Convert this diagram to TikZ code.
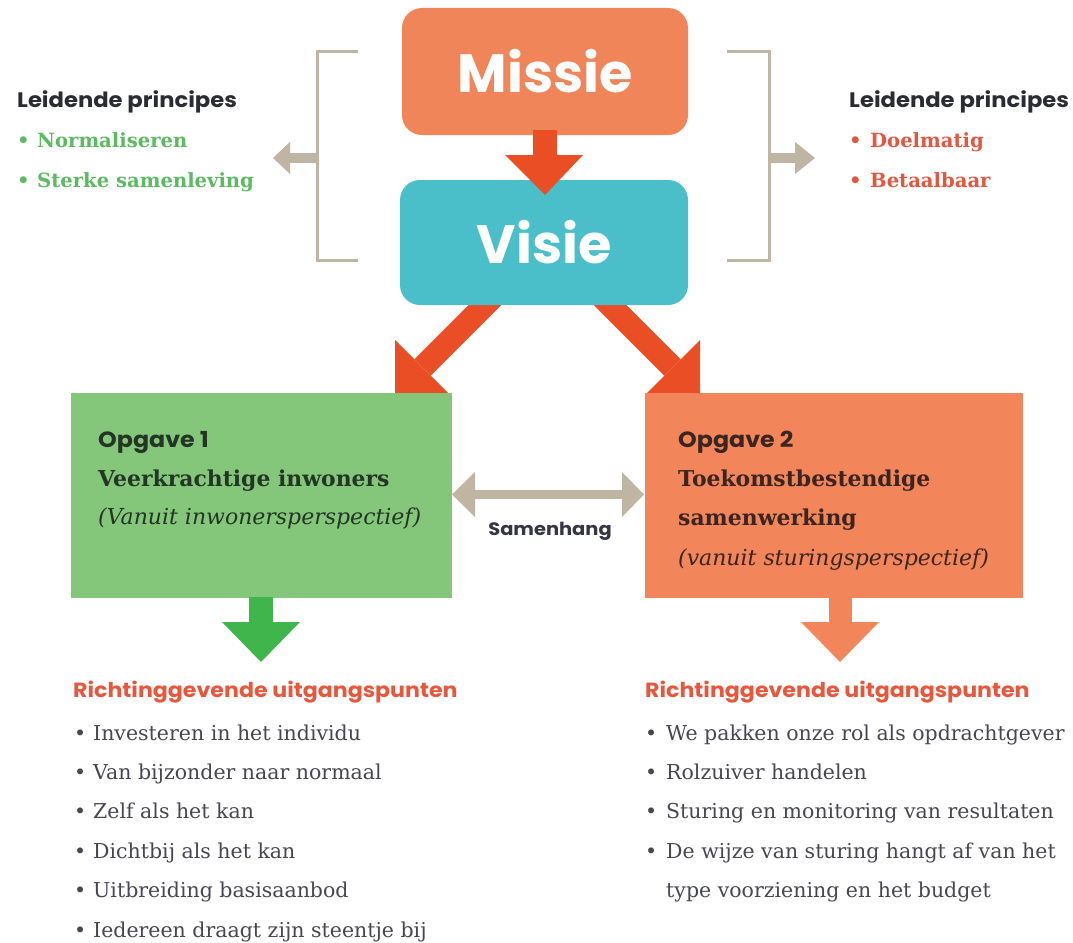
\documentclass[tikz,border=0pt]{standalone}
\usepackage{fontspec}
\setmainfont{DejaVu Serif}
\newfontfamily\sansf{Poppins}[FakeStretch=1.08]
\newfontfamily\titlef{Poppins}
\usetikzlibrary{backgrounds}
\definecolor{missiecol}{HTML}{EF8558}
\definecolor{visiecol}{HTML}{4ABFC9}
\definecolor{redarrow}{HTML}{E94E24}
\definecolor{tancol}{HTML}{C0B4A2}
\definecolor{greenbox}{HTML}{85C77A}
\definecolor{greenarrow}{HTML}{3FB54B}
\definecolor{orangebox}{HTML}{F2855A}
\definecolor{greentxt}{HTML}{5BBA62}
\definecolor{redtxt}{HTML}{E35640}
\definecolor{headred}{HTML}{E8573C}
\definecolor{darktxt}{HTML}{2B2B33}
\definecolor{listtxt}{HTML}{474753}
\definecolor{gboxtxt}{HTML}{233524}
\definecolor{oboxtxt}{HTML}{3B2520}
\definecolor{navytxt}{HTML}{353545}
\tikzset{
  topbox/.style={rounded corners=20pt, inner sep=0pt, text=white,
    font=\titlef\bfseries\fontsize{54}{54}\selectfont},
  opbox/.style={inner sep=0pt, minimum height=205pt},
  txt/.style={anchor=base west, inner sep=0pt},
  sanshead/.style={txt, font=\sansf\bfseries\fontsize{21}{21}\selectfont},
  opghead/.style={txt, font=\sansf\bfseries\fontsize{22}{22}\selectfont},
  rghead/.style={txt, text=headred, font=\sansf\bfseries\fontsize{20.5}{20.5}\selectfont},
  princ/.style={txt, font=\bfseries\fontsize{19.6}{19.6}\selectfont},
  boxser/.style={txt, font=\bfseries\fontsize{21.9}{21.9}\selectfont},
  boxital/.style={txt, font=\itshape\fontsize{22}{22}\selectfont},
  listitem/.style={txt, text=listtxt, font=\fontsize{20.5}{20.5}\selectfont},
  bracket/.style={draw=tancol, line width=3pt},
}
\begin{document}
\begin{tikzpicture}[x=1pt,y=-1pt]
\useasboundingbox (0,0) rectangle (1073,942);

% top boxes
\node[topbox, fill=missiecol, minimum width=286pt, minimum height=127pt] (missie) at (545,71.5) {Missie};
\node[topbox, fill=visiecol, minimum width=288pt, minimum height=125pt] (visie) at (544,242.5) {Visie};

% Missie -> Visie block arrow
\coordinate (mvtip) at (545,195);
\fill[redarrow] (533,130) rectangle (557,156);
\fill[redarrow] (505,155) -- (583,155) -- (mvtip) -- cycle;

% brackets
\draw[bracket] (358,52) -- (317,52) -- (317,260) -- (358,260);
\draw[bracket] (727,52) -- (769,52) -- (769,260) -- (727,260);
\fill[tancol] (318,153) rectangle (289,163);
\fill[tancol] (290,142) -- (273,158) -- (290,174) -- cycle;
\fill[tancol] (768,153) rectangle (796,163);
\fill[tancol] (795,142) -- (815,158) -- (795,174) -- cycle;

% leidende principes left
\node[sanshead, text=darktxt] (lpl) at (17,107) {Leidende principes};
\node[princ, text=greentxt] (pl1) at (17,147) {\makebox[20pt][l]{\textbullet}Normaliseren};
\node[princ, text=greentxt] (pl2) at (17,187) {\makebox[20pt][l]{\textbullet}Sterke samenleving};
% leidende principes right
\node[sanshead, text=darktxt] (lpr) at (849,107) {Leidende principes};
\node[princ, text=redtxt] (pr1) at (849,147) {\makebox[21pt][l]{\textbullet}Doelmatig};
\node[princ, text=redtxt] (pr2) at (849,187) {\makebox[21pt][l]{\textbullet}Betaalbaar};

% Opgave boxes
\node[opbox, fill=greenbox, minimum width=381pt] (op1) at (261.5,495.5) {};
\node[opbox, fill=orangebox, minimum width=378pt] (op2) at (834,495.5) {};

% diagonal arrows (behind)
\begin{scope}[on background layer]
\fill[white] (0,0) rectangle (1073,942);
\draw[redarrow, line width=23pt] (505,285) -- (422.5,367.5);
\fill[redarrow] (395,340) -- (450,395) -- (395,395) -- cycle;
\draw[redarrow, line width=23pt] (590,285) -- (672.5,367.5);
\fill[redarrow] (700,340) -- (645,395) -- (700,395) -- cycle;
\end{scope}

% box texts
\node[opghead, text=gboxtxt] (o1a) at (98,447) {Opgave 1};
\node[boxser, text=gboxtxt] (o1b) at (98,486) {Veerkrachtige inwoners};
\node[boxital, text=gboxtxt] (o1c) at (98,524) {(Vanuit inwonersperspectief)};
\node[opghead, text=oboxtxt] (o2a) at (678,447) {Opgave 2};
\node[boxser, text=oboxtxt] (o2b) at (678,486) {Toekomstbestendige};
\node[boxser, text=oboxtxt] (o2c) at (678,525) {samenwerking};
\node[boxital, text=oboxtxt] (o2d) at (678,565) {(vanuit sturingsperspectief)};

% Samenhang double arrow
\fill[tancol] (474,490) rectangle (623,499);
\fill[tancol] (475,472) -- (452,494.5) -- (475,517) -- cycle;
\fill[tancol] (622,472) -- (644,494.5) -- (622,517) -- cycle;
\node[anchor=base, inner sep=0pt, text=navytxt, font=\sansf\bfseries\fontsize{18}{18}\selectfont] (samen) at (550,535) {Samenhang};

% down arrows
\fill[greenarrow] (249,597) rectangle (273,623);
\fill[greenarrow] (222,622) -- (300,622) -- (261,662) -- cycle;
\fill[orangebox] (829,597) rectangle (852,623);
\fill[orangebox] (801,622) -- (879,622) -- (840,662) -- cycle;

% Richtinggevende uitgangspunten
\node[rghead] (rl) at (73,697) {Richtinggevende uitgangspunten};
\node[rghead] (rr) at (645,697) {Richtinggevende uitgangspunten};

% left list
\node[listitem] (l1) at (74,740) {\makebox[19pt][l]{\textbullet}Investeren in het individu};
\node[listitem] (l2) at (74,779.4) {\makebox[19pt][l]{\textbullet}Van bijzonder naar normaal};
\node[listitem] (l3) at (74,818.8) {\makebox[19pt][l]{\textbullet}Zelf als het kan};
\node[listitem] (l4) at (74,858.2) {\makebox[19pt][l]{\textbullet}Dichtbij als het kan};
\node[listitem] (l5) at (74,897.6) {\makebox[19pt][l]{\textbullet}Uitbreiding basisaanbod};
\node[listitem] (l6) at (74,937) {\makebox[19pt][l]{\textbullet}Iedereen draagt zijn steentje bij};

% right list
\node[listitem] (r1) at (645,740) {\makebox[21pt][l]{\textbullet}We pakken onze rol als opdrachtgever};
\node[listitem] (r2) at (645,779.4) {\makebox[21pt][l]{\textbullet}Rolzuiver handelen};
\node[listitem] (r3) at (645,818.8) {\makebox[21pt][l]{\textbullet}Sturing en monitoring van resultaten};
\node[listitem] (r4) at (645,858.2) {\makebox[21pt][l]{\textbullet}De wijze van sturing hangt af van het};
\node[listitem] (r5) at (666,897.6) {type voorziening en het budget};
\end{tikzpicture}
\end{document}
